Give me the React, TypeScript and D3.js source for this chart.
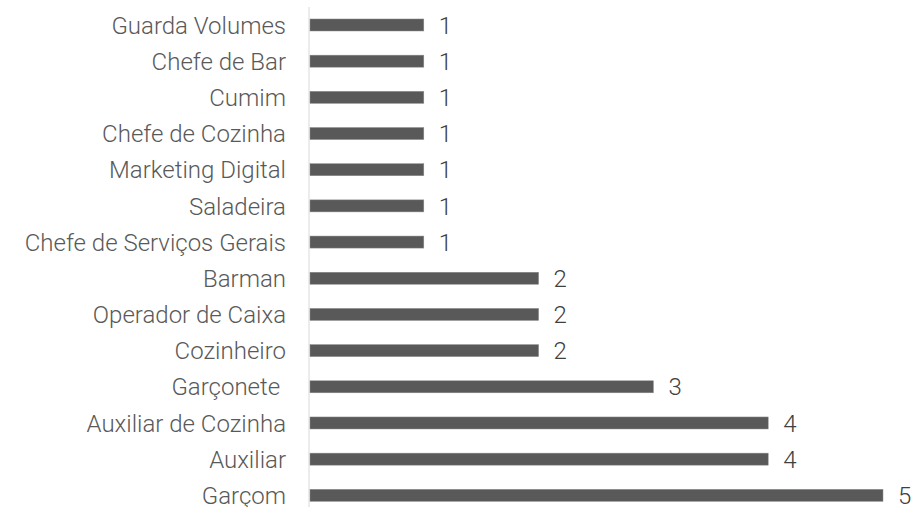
import React from "react";
import * as d3 from "d3";

const categories = [
	"Guarda Volumes",
	"Chefe de Bar",
	"Cumim",
	"Chefe de Cozinha",
	"Marketing Digital",
	"Saladeira",
	"Chefe de Serviços Gerais",
	"Barman",
	"Operador de Caixa",
	"Cozinheiro",
	"Garçonete ",
	"Auxiliar de Cozinha",
	"Auxiliar",
	"Garçom",
];
const values = [1, 1, 1, 1, 1, 1, 1, 2, 2, 2, 3, 4, 4, 5];

const W = 914;
const H = 507;

export default function App() {
	const x = d3.scaleLinear().domain([0, 5]).range([309, 883]);
	const y = d3
		.scaleBand<string>()
		.domain(categories)
		.range([6.9, 6.9 + 14 * 36.18])
		.paddingInner(0.668)
		.paddingOuter(0.334);

	const font = "Roboto, 'Noto Sans', sans-serif";

	return (
		<svg
			width={W}
			height={H}
			style={{ position: "absolute", left: 0, top: 0, background: "#fff" }}
		>
			<line x1={x(0)} x2={x(0)} y1={7} y2={H} stroke="#d9d9d9" strokeWidth={1} />
			{categories.map((c, i) => {
				const yy = y(c)!;
				const bw = y.bandwidth();
				return (
					<g key={c}>
						<rect
							x={x(0) + 1}
							y={yy}
							width={x(values[i]) - x(0) - 1}
							height={bw}
							fill="#595959"
							stroke="#8c8c8c"
							strokeWidth={0.5}
						/>
						<text
							x={286}
							y={yy + bw / 2}
							dy="0.36em"
							textAnchor="end"
							fontFamily={font}
							fontSize={24}
							fontWeight={300}
							fill="#595959"
							style={{ whiteSpace: "pre" }}
						>
							{c}
						</text>
						<text
							x={x(values[i]) + 15}
							y={yy + bw / 2}
							dy="0.36em"
							fontFamily={font}
							fontSize={24}
							fontWeight={300}
							fill="#404040"
						>
							{values[i]}
						</text>
					</g>
				);
			})}
		</svg>
	);
}
